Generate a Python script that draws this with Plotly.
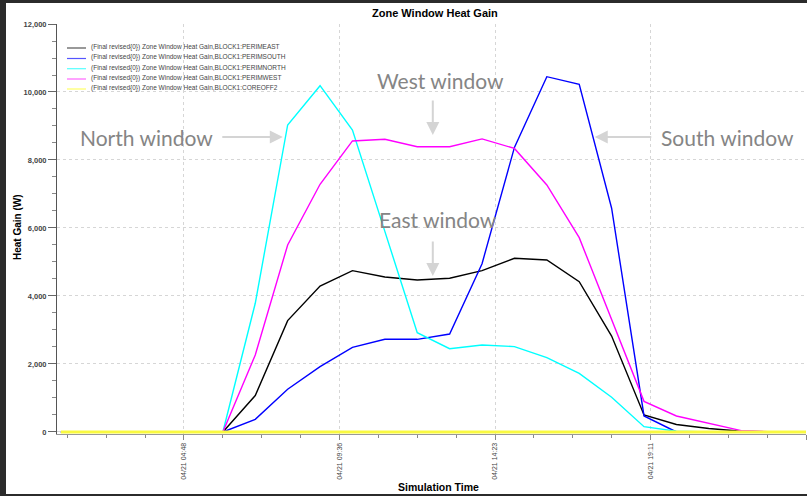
import plotly.graph_objects as go

# ---------------- data ----------------
hours = list(range(1, 25))  # hourly time stamps on 04/21 (hour of day)

east = [0, 0, 0, 0, 0, 0, 1070, 3275, 4290, 4745, 4560, 4470, 4520, 4745,
        5110, 5060, 4420, 2820, 500, 220, 100, 20, 0, 0]
south = [0, 0, 0, 0, 0, 0, 370, 1255, 1920, 2490, 2725, 2725, 2880, 4950,
         8370, 10450, 10225, 6580, 470, 0, 0, 0, 0, 0]
north = [0, 0, 0, 0, 0, 0, 3785, 9030, 10185, 8880, 5900, 2920, 2450, 2560,
         2510, 2185, 1725, 1020, 155, 20, 0, 0, 0, 0]
west = [0, 0, 0, 0, 0, 0, 2265, 5500, 7285, 8560, 8610, 8390, 8390, 8620,
        8340, 7265, 5715, 3300, 900, 470, 250, 40, 0, 0]
core = [0] * 24

series_names = [
    "(Final revised{0}) Zone Window Heat Gain,BLOCK1:PERIMEAST",
    "(Final revised{0}) Zone Window Heat Gain,BLOCK1:PERIMSOUTH",
    "(Final revised{0}) Zone Window Heat Gain,BLOCK1:PERIMNORTH",
    "(Final revised{0}) Zone Window Heat Gain,BLOCK1:PERIMWEST",
    "(Final revised{0}) Zone Window Heat Gain,BLOCK1:COREOFF2",
]
series_values = [east, south, north, west, core]
series_colors = ["#000000", "#0000ff", "#00ffff", "#ff00ff", "#f9f940"]
legend_colors = ["#555555", "#5555ff", "#55ffff", "#ff66ff", "#ffff66"]
series_widths = [1.4, 1.4, 1.4, 1.4, 3]

x_tick_vals = [4.8, 9.6, 14.4, 19.2, 24.0]
x_tick_text = ["04/21 04:48", "04/21 09:36", "04/21 14:23", "04/21 19:11", "04/21 23:59"]
y_tick_vals = [0, 2000, 4000, 6000, 8000, 10000, 12000]

# ---------------- layout helpers (pixel -> paper, decoration only) ----------------
W, H = 807, 496
L, R, T, B = 57, 806, 24, 434


def PX(x):
    return (x - L) / (R - L)


def PY(y):
    return (B - y) / (B - T)


fig = go.Figure()
for name, vals, col, w in zip(series_names, series_values, series_colors, series_widths):
    fig.add_trace(go.Scatter(x=hours, y=vals, mode="lines", name=name,
                             line=dict(color=col, width=w), showlegend=False,
                             hoverinfo="skip"))

shapes = []
annotations = []

# manual compact legend
leg_y = [47, 57.5, 67.7, 78, 88]
for name, col, yy in zip(series_names, legend_colors, leg_y):
    shapes.append(dict(type="line", xref="paper", yref="paper",
                       x0=PX(67), x1=PX(86), y0=PY(yy + 1), y1=PY(yy + 1),
                       line=dict(color=col, width=1.2)))
    annotations.append(dict(xref="paper", yref="paper", x=PX(89), y=PY(yy),
                            text=name, showarrow=False, xanchor="left", yanchor="middle",
                            font=dict(family="Liberation Sans", size=6.5, color="#444444")))

# callout labels
label_font = dict(family="Lato", size=21, color="#858585")
callouts = [
    ("North window", 3.65, 8676),
    ("West window", 12.73, 10324),
    ("South window", 21.59, 8676),
    ("East window", 12.64, 6236),
]
for txt, xx, yy in callouts:
    annotations.append(dict(x=xx, y=yy, text=txt, showarrow=False,
                            xanchor="center", yanchor="middle", font=label_font))

arrows = [
    (7.85, 8676, -62, 0),
    (12.48, 8735, 0, -36),
    (17.48, 8676, 58, 0),
    (12.48, 4588, 0, -36),
]
for xx, yy, ax, ay in arrows:
    annotations.append(dict(x=xx, y=yy, ax=ax, ay=ay, text="", showarrow=True,
                            arrowhead=2, arrowsize=1.3, arrowwidth=2,
                            arrowcolor="#d4d4d4"))

# titles
annotations.append(dict(xref="paper", yref="paper", x=PX(435), y=PY(13),
                        xanchor="center", yanchor="middle",
                        text="<b>Zone Window Heat Gain</b>", showarrow=False,
                        font=dict(family="Liberation Sans", size=11, color="#000")))
annotations.append(dict(xref="paper", yref="paper", x=PX(17), y=PY(227),
                        xanchor="center", yanchor="middle",
                        text="<b>Heat Gain (W)</b>", showarrow=False, textangle=-90,
                        font=dict(family="Liberation Sans", size=10, color="#000")))
annotations.append(dict(xref="paper", yref="paper", x=PX(438), y=PY(487),
                        xanchor="center", yanchor="middle",
                        text="<b>Simulation Time</b>", showarrow=False,
                        font=dict(family="Liberation Sans", size=10.5, color="#000")))

# dark screenshot frame
frame = "#2b2b2b"
shapes.append(dict(type="rect", xref="paper", yref="paper", x0=PX(0), x1=PX(W),
                   y0=PY(0), y1=PY(3), fillcolor=frame, line=dict(width=0), layer="above"))
shapes.append(dict(type="rect", xref="paper", yref="paper", x0=PX(0), x1=PX(6),
                   y0=PY(0), y1=PY(H), fillcolor=frame, line=dict(width=0), layer="above"))
shapes.append(dict(type="rect", xref="paper", yref="paper", x0=PX(0), x1=PX(W),
                   y0=PY(494), y1=PY(H), fillcolor=frame, line=dict(width=0), layer="above"))

fig.update_layout(
    width=W, height=H,
    margin=dict(l=L, r=W - R, t=T, b=H - B),
    paper_bgcolor="white", plot_bgcolor="white",
    showlegend=False,
    shapes=shapes, annotations=annotations,
    font=dict(family="Liberation Sans"),
)

fig.update_xaxes(
    range=[0.88, 24.0], tickmode="array", tickvals=x_tick_vals, ticktext=x_tick_text,
    tickangle=-90, tickfont=dict(family="Liberation Sans", size=7, color="#444"),
    showline=True, linecolor="#999999", linewidth=1,
    ticks="outside", ticklen=5, tickcolor="#888",
    showgrid=True, gridcolor="#d6d6d6", griddash="dot", gridwidth=1,
    zeroline=False,
    minor=dict(tickmode="linear", tick0=0, dtick=1.2, ticks="outside", ticklen=3,
               tickcolor="#888", showgrid=False),
)
fig.update_yaxes(
    range=[-60, 12000], tickmode="array", tickvals=y_tick_vals, tickformat=",",
    tickfont=dict(family="Liberation Sans", size=7.5, color="#444", weight="bold"),
    showline=True, linecolor="#555555", linewidth=1,
    ticks="outside", ticklen=8, tickcolor="#666",
    showgrid=True, gridcolor="#d6d6d6", griddash="dot", gridwidth=1,
    zeroline=False,
    minor=dict(tickmode="linear", tick0=0, dtick=500, ticks="outside", ticklen=4,
               tickcolor="#888", showgrid=False),
)

fig.write_html(
    "out.html",
    config={"displayModeBar": False},
    post_script="document.body.style.margin='0';document.body.style.overflow='hidden';",
)
